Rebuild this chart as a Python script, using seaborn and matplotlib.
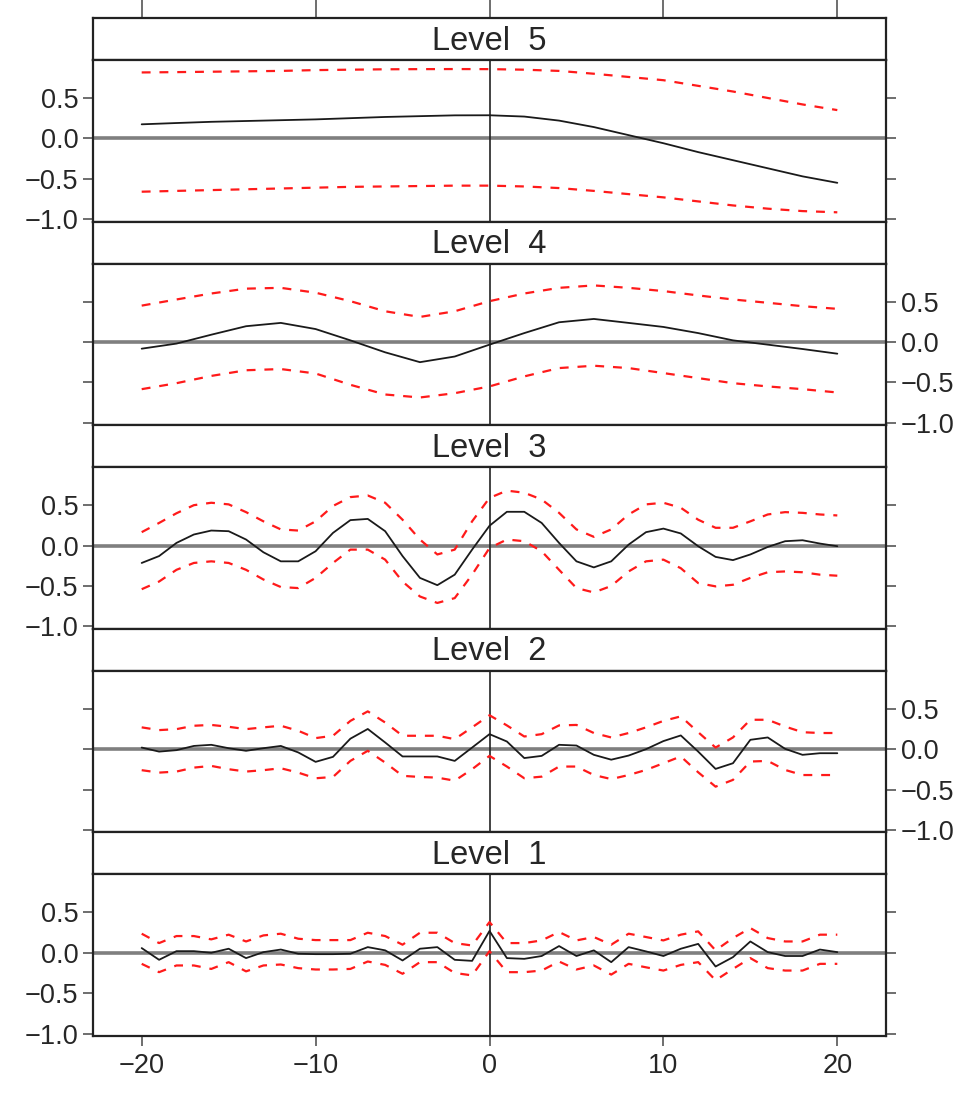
import matplotlib
matplotlib.use("Agg")
import matplotlib.pyplot as plt
import seaborn as sns
import pandas as pd

# ---- data ----
level_names = ["Level  5", "Level  4", "Level  3", "Level  2", "Level  1"]

lag_coarse = list(range(-20, 21, 2))
lag_fine = list(range(-20, 21))

x_ticks = [-20, -10, 0, 10, 20]
x_tick_labels = ["\u221220", "\u221210", "0", "10", "20"]
y_ticks = [-1.0, -0.5, 0.0, 0.5]
y_tick_labels = ["\u22121.0", "\u22120.5", "0.0", "0.5"]

# Level 5 (even lags)
l5_est = [0.174, 0.19, 0.205, 0.215, 0.225, 0.235, 0.25, 0.265, 0.275, 0.285, 0.286,
          0.27, 0.22, 0.14, 0.04, -0.06, -0.17, -0.27, -0.37, -0.47, -0.55]
l5_upper = [0.816, 0.82, 0.825, 0.83, 0.835, 0.845, 0.85, 0.855, 0.857, 0.858, 0.857,
            0.85, 0.835, 0.80, 0.76, 0.72, 0.65, 0.58, 0.50, 0.42, 0.35]
l5_lower = [-0.66, -0.65, -0.64, -0.63, -0.62, -0.61, -0.60, -0.595, -0.59, -0.585, -0.585,
            -0.595, -0.615, -0.65, -0.69, -0.73, -0.78, -0.83, -0.87, -0.90, -0.915]

# Level 4 (even lags)
l4_est = [-0.083, -0.02, 0.09, 0.195, 0.236, 0.16, 0.02, -0.128, -0.25, -0.18, -0.033,
          0.11, 0.244, 0.285, 0.236, 0.186, 0.11, 0.02, -0.033, -0.087, -0.145]
l4_upper = [0.45, 0.526, 0.60, 0.66, 0.67, 0.61, 0.505, 0.38, 0.31, 0.38, 0.505,
            0.60, 0.67, 0.70, 0.67, 0.63, 0.576, 0.526, 0.485, 0.443, 0.41]
l4_lower = [-0.584, -0.51, -0.42, -0.35, -0.335, -0.39, -0.53, -0.65, -0.687, -0.634, -0.55,
            -0.426, -0.323, -0.294, -0.323, -0.385, -0.447, -0.51, -0.55, -0.584, -0.625]

# Level 3 (every lag)
l3_est = [-0.215, -0.13, 0.033, 0.137, 0.186, 0.178, 0.075, -0.083, -0.195, -0.195, -0.07,
          0.157, 0.315, 0.33, 0.178, -0.13, -0.40, -0.49, -0.36, -0.05, 0.245,
          0.418, 0.418, 0.28, 0.033, -0.195, -0.27, -0.195, 0.012, 0.166, 0.21,
          0.15, -0.008, -0.14, -0.18, -0.11, -0.017, 0.054, 0.066, 0.025, -0.008]
l3_upper = [0.166, 0.28, 0.40, 0.50, 0.53, 0.51, 0.414, 0.30, 0.20, 0.186, 0.30,
            0.49, 0.60, 0.62, 0.53, 0.32, 0.075, -0.11, -0.05, 0.30, 0.59,
            0.68, 0.654, 0.57, 0.405, 0.20, 0.108, 0.20, 0.385, 0.51, 0.53,
            0.468, 0.32, 0.22, 0.22, 0.30, 0.385, 0.414, 0.405, 0.385, 0.373]
l3_lower = [-0.54, -0.445, -0.30, -0.215, -0.195, -0.215, -0.30, -0.42, -0.513, -0.526, -0.40,
            -0.215, -0.05, -0.05, -0.174, -0.445, -0.63, -0.71, -0.65, -0.36, -0.03,
            0.075, 0.054, -0.07, -0.30, -0.526, -0.58, -0.50, -0.32, -0.195, -0.174,
            -0.28, -0.464, -0.505, -0.485, -0.40, -0.33, -0.32, -0.33, -0.36, -0.373]

# Level 2 (every lag)
l2_est = [0.02, -0.03, -0.012, 0.04, 0.054, 0.012, -0.02, 0.012, 0.04, -0.04, -0.157,
          -0.095, 0.13, 0.25, 0.083, -0.09, -0.09, -0.09, -0.145, 0.02, 0.186,
          0.095, -0.11, -0.083, 0.054, 0.045, -0.07, -0.13, -0.079, 0.0, 0.10,
          0.17, -0.03, -0.244, -0.174, 0.116, 0.145, 0.004, -0.07, -0.05, -0.05]
l2_upper = [0.27, 0.236, 0.248, 0.29, 0.30, 0.277, 0.248, 0.27, 0.29, 0.228, 0.137,
            0.166, 0.35, 0.468, 0.33, 0.166, 0.166, 0.166, 0.124, 0.27, 0.42,
            0.294, 0.157, 0.186, 0.294, 0.30, 0.20, 0.145, 0.20, 0.27, 0.35,
            0.406, 0.21, 0.02, 0.145, 0.364, 0.364, 0.28, 0.21, 0.20, 0.20]
l2_lower = [-0.26, -0.29, -0.277, -0.228, -0.207, -0.248, -0.277, -0.26, -0.236, -0.29, -0.36,
            -0.344, -0.145, -0.02, -0.166, -0.33, -0.344, -0.352, -0.39, -0.248, -0.083,
            -0.215, -0.36, -0.34, -0.215, -0.215, -0.32, -0.37, -0.32, -0.257, -0.174,
            -0.09, -0.286, -0.464, -0.38, -0.153, -0.145, -0.257, -0.32, -0.32, -0.32]

# Level 1 (every lag)
l1_est = [0.058, -0.087, 0.02, 0.02, 0.0, 0.05, -0.066, 0.008, 0.04, -0.012, -0.017,
          -0.017, -0.012, 0.07, 0.03, -0.095, 0.05, 0.07, -0.087, -0.10, 0.27,
          -0.066, -0.075, -0.04, 0.083, -0.04, 0.03, -0.116, 0.07, 0.017, -0.04,
          0.05, 0.11, -0.17, -0.054, 0.14, 0.008, -0.04, -0.04, 0.04, 0.008]
l1_upper = [0.236, 0.12, 0.207, 0.207, 0.166, 0.224, 0.14, 0.215, 0.236, 0.174, 0.157,
            0.157, 0.157, 0.248, 0.207, 0.10, 0.248, 0.248, 0.12, 0.09, 0.38,
            0.12, 0.12, 0.153, 0.257, 0.153, 0.195, 0.10, 0.236, 0.195, 0.153,
            0.224, 0.265, 0.03, 0.182, 0.306, 0.182, 0.14, 0.14, 0.224, 0.224]
l1_lower = [-0.137, -0.24, -0.157, -0.157, -0.20, -0.116, -0.23, -0.157, -0.145, -0.19, -0.207,
            -0.207, -0.20, -0.108, -0.15, -0.26, -0.116, -0.116, -0.25, -0.28, 0.02,
            -0.24, -0.24, -0.22, -0.108, -0.207, -0.157, -0.27, -0.137, -0.18, -0.22,
            -0.15, -0.116, -0.34, -0.20, -0.066, -0.19, -0.22, -0.22, -0.137, -0.137]

panels = [
    (lag_coarse, l5_est, l5_upper, l5_lower),
    (lag_coarse, l4_est, l4_upper, l4_lower),
    (lag_fine, l3_est, l3_upper, l3_lower),
    (lag_fine, l2_est, l2_upper, l2_lower),
    (lag_fine, l1_est, l1_upper, l1_lower),
]

sns.set_style("white")
plt.rcParams["font.family"] = ["Liberation Sans", "DejaVu Sans"]

W, H = 980, 1097
fig = plt.figure(figsize=(W / 100, H / 100), dpi=100)

frame_col = "#222222"
tick_col = "#555555"
left_px, right_px = 93, 886
top_px = 18
strip_h = 42
panel_h = 161.6
block_h = strip_h + panel_h


def fig_rect(x0, y0, x1, y1):
    return [x0 / W, 1 - y1 / H, (x1 - x0) / W, (y1 - y0) / H]


for i, (name, (lags, est, up, lo)) in enumerate(zip(level_names, panels)):
    y_strip = top_px + i * block_h
    y_panel = y_strip + strip_h

    # strip
    sax = fig.add_axes(fig_rect(left_px, y_strip, right_px, y_panel))
    sax.set_xlim(-22.8, 22.8)
    sax.set_yticks([])
    sax.text(0.5, 0.45, name, transform=sax.transAxes, ha="center", va="center",
             fontsize=23.5)
    for s in sax.spines.values():
        s.set_color(frame_col)
        s.set_linewidth(1.6)
    if i == 0:
        sax.set_xticks(x_ticks)
        sax.tick_params(axis="x", top=True, bottom=False, labeltop=False,
                        labelbottom=False, length=13, width=1.2, color=tick_col,
                        direction="out")
    else:
        sax.set_xticks([])

    # panel
    ax = fig.add_axes(fig_rect(left_px, y_panel, right_px, y_strip + block_h))
    ax.axhline(0, color="#7f7f7f", lw=2.6, zorder=1)
    ax.axvline(0, color="#222222", lw=1.2, zorder=1)

    df = pd.DataFrame({"lag": lags, "est": est, "upper": up, "lower": lo})
    sns.lineplot(data=df, x="lag", y="est", ax=ax, color="#1a1a1a", lw=1.3,
                 estimator=None, zorder=3)
    for col in ["upper", "lower"]:
        sns.lineplot(data=df, x="lag", y=col, ax=ax, color="#ff1a1a", lw=1.6,
                     estimator=None, zorder=2, dashes=False, linestyle=(0, (4, 4)))

    ax.set_xlim(-22.8, 22.8)
    ax.set_ylim(-1.03, 0.97)
    ax.set_xlabel("")
    ax.set_ylabel("")
    for s in ax.spines.values():
        s.set_color(frame_col)
        s.set_linewidth(1.6)

    ax.set_yticks(y_ticks)
    ax.set_yticklabels(y_tick_labels)
    labels_left = (i % 2 == 0)
    ax.tick_params(axis="y", left=True, right=True, labelleft=labels_left,
                   labelright=not labels_left, length=7.5, width=1.2,
                   color=tick_col, direction="out", labelsize=19.5, pad=3)

    if i == len(level_names) - 1:
        ax.set_xticks(x_ticks)
        ax.set_xticklabels(x_tick_labels)
        ax.tick_params(axis="x", bottom=True, top=False, length=7.5, width=1.2,
                       color=tick_col, direction="out", labelsize=19.5, pad=5)
    else:
        ax.set_xticks([])

fig.savefig("out.png", dpi=100)
